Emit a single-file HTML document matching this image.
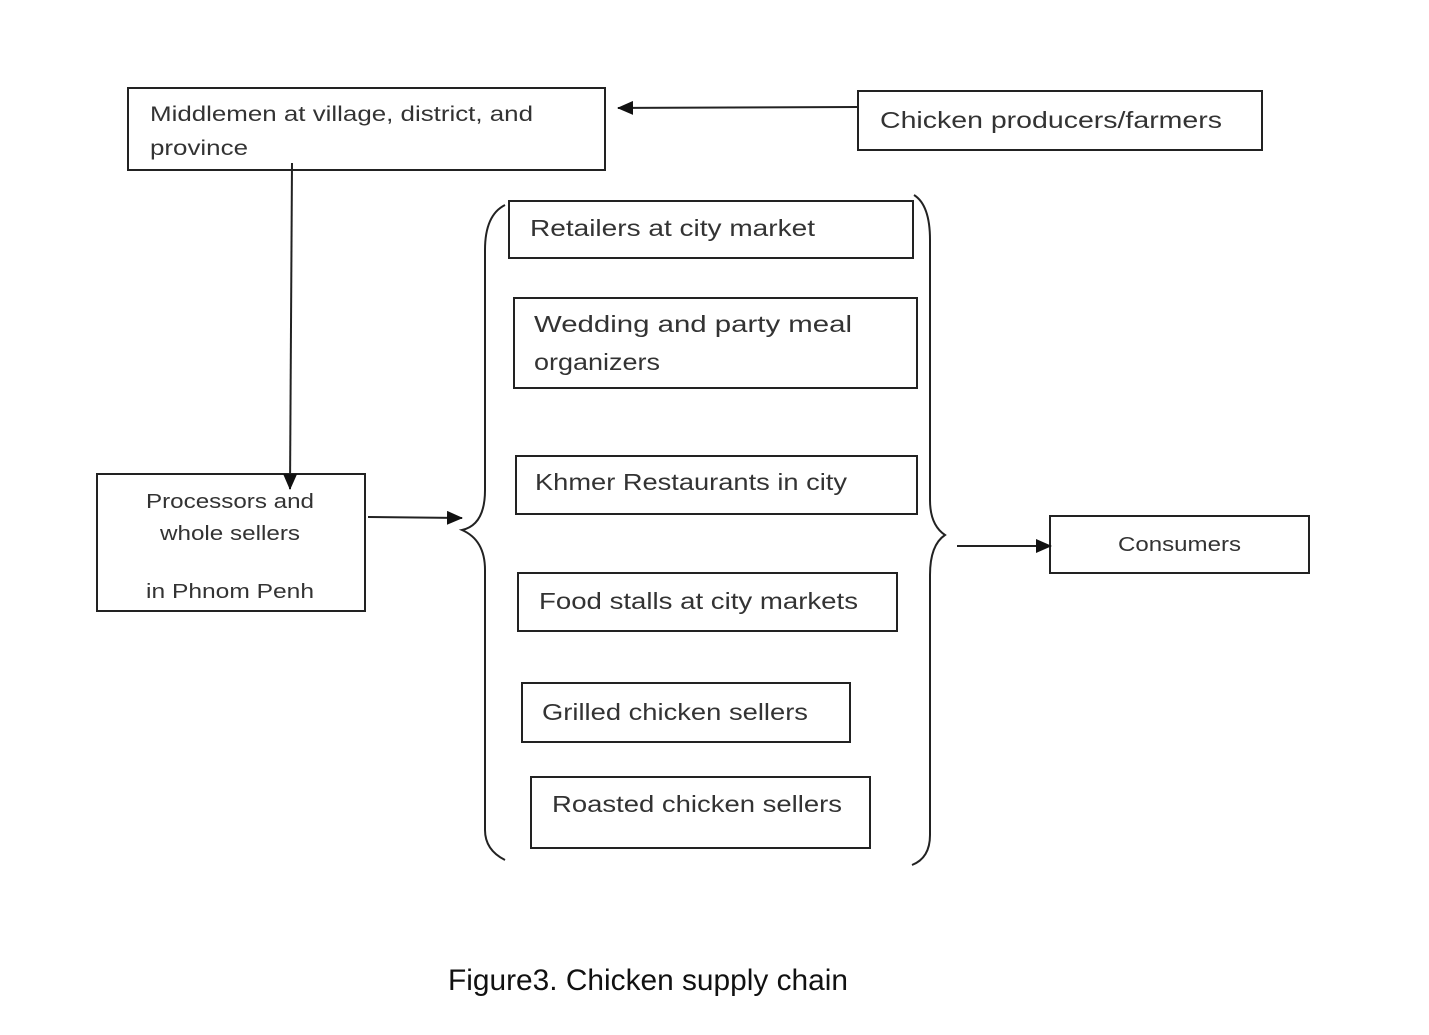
<!DOCTYPE html>
<html><head><meta charset="utf-8"><style>html,body{margin:0;padding:0;background:#fff}svg{display:block}</style></head>
<body>
<svg width="1429" height="1035" viewBox="0 0 1429 1035" xmlns="http://www.w3.org/2000/svg">
<defs><marker id="b" markerWidth="16" markerHeight="14" refX="15" refY="7" orient="auto" markerUnits="userSpaceOnUse"><path d="M0,0 L16,7 L0,14 z" fill="#111"/></marker></defs>
<g fill="none" stroke="#222" stroke-width="2">
<rect x="128" y="88" width="477" height="82"/>
<rect x="858" y="91" width="404" height="59"/>
<rect x="97" y="474" width="268" height="137"/>
<rect x="1050" y="516" width="259" height="57"/>
<rect x="509" y="201" width="404" height="57"/>
<rect x="514" y="298" width="403" height="90"/>
<rect x="516" y="456" width="401" height="58"/>
<rect x="518" y="573" width="379" height="58"/>
<rect x="522" y="683" width="328" height="59"/>
<rect x="531" y="777" width="339" height="71"/>
<line x1="858" y1="107" x2="618" y2="108" marker-end="url(#b)"/>
<line x1="292" y1="163" x2="290" y2="489" marker-end="url(#b)"/>
<line x1="368" y1="517" x2="462" y2="518" marker-end="url(#b)"/>
<line x1="957" y1="546" x2="1051" y2="546" marker-end="url(#b)"/>
<path d="M505,205 Q485,215 485,250 L485,490 Q485,525 462,530 Q485,540 485,570 L485,830 Q485,850 505,860"/>
<path d="M914,195 Q930,205 930,240 L930,500 Q930,525 945,535 Q930,545 930,575 L930,835 Q930,858 912,865"/>
</g>
<g font-family="Liberation Sans, sans-serif" fill="#333" font-size="21" lengthAdjust="spacingAndGlyphs">
<text x="150" y="121" textLength="383" lengthAdjust="spacingAndGlyphs">Middlemen at village, district, and</text>
<text x="150" y="155" textLength="98" lengthAdjust="spacingAndGlyphs">province</text>
<text x="880" y="128" font-size="23" textLength="342" lengthAdjust="spacingAndGlyphs">Chicken producers/farmers</text>
<text x="146" y="508" font-size="20" textLength="168" lengthAdjust="spacingAndGlyphs">Processors and</text>
<text x="160" y="540" font-size="20" textLength="140" lengthAdjust="spacingAndGlyphs">whole sellers</text>
<text x="146" y="598" font-size="20" textLength="168" lengthAdjust="spacingAndGlyphs">in Phnom Penh</text>
<text x="1118" y="551" font-size="20" textLength="123" lengthAdjust="spacingAndGlyphs">Consumers</text>
<g font-size="23">
<text x="530" y="236" textLength="285" lengthAdjust="spacingAndGlyphs">Retailers at city market</text>
<text x="534" y="332" textLength="318" lengthAdjust="spacingAndGlyphs">Wedding and party meal</text>
<text x="534" y="370" textLength="126" lengthAdjust="spacingAndGlyphs">organizers</text>
<text x="535" y="490" textLength="312" lengthAdjust="spacingAndGlyphs">Khmer Restaurants in city</text>
<text x="539" y="609" textLength="319" lengthAdjust="spacingAndGlyphs">Food stalls at city markets</text>
<text x="542" y="720" textLength="266" lengthAdjust="spacingAndGlyphs">Grilled chicken sellers</text>
<text x="552" y="812" textLength="290" lengthAdjust="spacingAndGlyphs">Roasted chicken sellers</text>
</g>
</g>
<text x="448" y="990" font-family="Liberation Sans, sans-serif" font-size="30" fill="#111" textLength="400" lengthAdjust="spacingAndGlyphs">Figure3. Chicken supply chain</text>
</svg>
</body></html>
